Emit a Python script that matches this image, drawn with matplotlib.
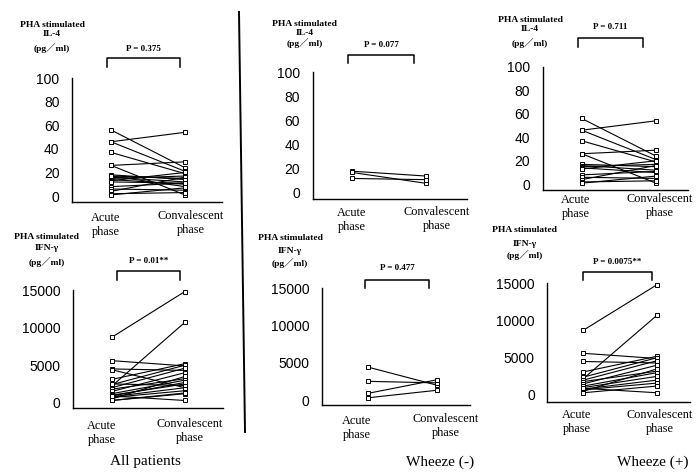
import matplotlib
matplotlib.use("Agg")
import matplotlib.pyplot as plt

W, H = 698, 472

# IL-4 (pg/ml), acute vs convalescent phase
il4_wheeze_pos_acute = [56, 46, 46, 37, 26, 26, 17, 16, 15, 14, 13, 8, 6, 4, 2, 1]
il4_wheeze_pos_conv = [24, 54, 21, 19, 29, 1, 15, 12, 17, 10, 20, 11, 5, 16, 3, 7]
il4_wheeze_neg_acute = [18, 17, 12]
il4_wheeze_neg_conv = [14, 8, 11]

# IFN-gamma (pg/ml)
ifn_wheeze_pos_acute = [8700, 2200, 5600, 4500, 3100, 2400, 2000, 1800, 1500, 1200, 1000, 800, 700, 500, 900, 300]
ifn_wheeze_pos_conv = [14800, 10700, 4900, 4300, 5200, 5000, 4600, 3200, 4000, 3000, 2500, 2000, 1600, 3500, 300, 1200]
ifn_wheeze_neg_acute = [4400, 2500, 900, 300]
ifn_wheeze_neg_conv = [2000, 2300, 2700, 1300]

groups = ["All patients", "Wheeze (-)", "Wheeze (+)"]
il4_p = ["P = 0.375", "P = 0.077", "P = 0.711"]
ifn_p = ["P = 0.01**", "P = 0.477", "P = 0.0075**"]
il4_ticks = [0, 20, 40, 60, 80, 100]
ifn_ticks = [0, 5000, 10000, 15000]
phases = ["Acute\nphase", "Convalescent\nphase"]

SERIF = ["Liberation Serif", "Noto Sans CJK JP"]
SANS = "Liberation Sans"

fig = plt.figure(figsize=(W / 100, H / 100), dpi=100)
fig.patch.set_facecolor("white")

ov = fig.add_axes([0, 0, 1, 1])
ov.set_xlim(0, W)
ov.set_ylim(H, 0)
ov.axis("off")


def panel(box, ylim, xlim, ticks, acute, conv):
    left, top, right, bottom = box
    ax = fig.add_axes([left / W, 1 - bottom / H, (right - left) / W, (bottom - top) / H])
    for a, c in zip(acute, conv):
        ax.plot([0, 1], [a, c], color="black", lw=0.8, marker="s", ms=2.3,
                mfc="white", mec="black", mew=0.7)
    ax.set_xlim(*xlim)
    ax.set_ylim(*ylim)
    ax.set_yticks(ticks)
    ax.set_yticklabels([str(t) for t in ticks], fontfamily=SANS, fontsize=10)
    ax.set_xticks([])
    ax.tick_params(axis="y", length=0, pad=9)
    for s in ["top", "right"]:
        ax.spines[s].set_visible(False)
    ax.spines["left"].set_linewidth(1.0)
    ax.spines["bottom"].set_linewidth(1.0)
    ax.patch.set_alpha(0)
    return ax


def bracket(x1, x2, ytop, ybot, label, ytext):
    ov.plot([x1, x1, x2, x2], [ybot, ytop, ytop, ybot], color="black", lw=1.1)
    ov.text((x1 + x2) / 2, ytext, label, ha="center", va="center",
            fontfamily=SERIF, fontsize=6.5, fontweight="bold")


def ylabel(cx, ys, assay):
    for y, t in zip(ys, ["PHA stimulated", assay, "(pg／ml)"]):
        ov.text(cx, y, t, ha="center", va="center", fontfamily=SERIF,
                fontsize=6.8, fontweight="bold")


def xlabels(pos):
    for (cx, cy), t in zip(pos, phases):
        ov.text(cx, cy, t, ha="center", va="center", fontfamily=SERIF,
                fontsize=8.8, linespacing=1.25)


# top row: IL-4
panel((72, 78, 222, 202), (-5, 100), (-0.527, 1.50), il4_ticks,
      il4_wheeze_pos_acute + il4_wheeze_neg_acute, il4_wheeze_pos_conv + il4_wheeze_neg_conv)
panel((312.7, 72, 466.7, 199), (-5, 100), (-0.527, 1.554), il4_ticks,
      il4_wheeze_neg_acute, il4_wheeze_neg_conv)
panel((542.7, 66.7, 688, 190.2), (-5, 100), (-0.525, 1.43), il4_ticks,
      il4_wheeze_pos_acute, il4_wheeze_pos_conv)

# bottom row: IFN-gamma
panel((72.7, 290, 223, 408), (-700, 15000), (-0.532, 1.52), ifn_ticks,
      ifn_wheeze_pos_acute + ifn_wheeze_neg_acute, ifn_wheeze_pos_conv + ifn_wheeze_neg_conv)
panel((321.7, 288, 470, 404.5), (-600, 15000), (-0.68, 1.49), ifn_ticks,
      ifn_wheeze_neg_acute, ifn_wheeze_neg_conv)
panel((547.3, 283.3, 690, 401.7), (-900, 15000), (-0.49, 1.45), ifn_ticks,
      ifn_wheeze_pos_acute, ifn_wheeze_pos_conv)

# axis titles
ylabel(52, (25, 34, 48), "IL-4")
ylabel(305, (24, 33, 43), "IL-4")
ylabel(530, (20, 29, 43), "IL-4")
ylabel(47, (237, 248, 262), "IFN-γ")
ylabel(290, (238, 251, 263), "IFN-γ")
ylabel(525, (230, 244, 255), "IFN-γ")

# p-value brackets
bracket(107, 180, 58, 67, il4_p[0], 49)
bracket(348, 414, 55, 63, il4_p[1], 45)
bracket(578, 643, 38, 47, il4_p[2], 27)
bracket(117, 180, 271, 280, ifn_p[0], 261)
bracket(365, 429, 280, 288, ifn_p[1], 268)
bracket(583, 652, 272, 280, ifn_p[2], 262)

# phase labels
xlabels([(106, 225), (191, 223)])
xlabels([(352, 220), (437, 219)])
xlabels([(576, 207), (660, 206)])
xlabels([(102, 433), (190, 431)])
xlabels([(357, 428), (446, 426)])
xlabels([(577, 422), (660, 422)])

# group labels
for x, g in zip([145, 440, 653], groups):
    ov.text(x, 462, g, ha="center", va="center", fontfamily=SERIF, fontsize=11)

# divider
ov.plot([239, 245], [12, 432], color="black", lw=1.4)

fig.savefig("out.png", dpi=100, facecolor="white")
